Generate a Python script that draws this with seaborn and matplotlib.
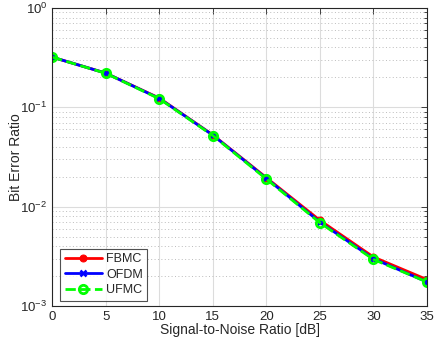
import matplotlib
matplotlib.use("Agg")
import matplotlib.pyplot as plt
import seaborn as sns
import numpy as np
import pandas as pd

sns.set_theme(style="white")
plt.rcParams['font.family'] = ['Liberation Sans', 'DejaVu Sans']

# SNR points and BER curves
snr_db = [0, 5, 10, 15, 20, 25, 30, 35]
ber_fbmc = [0.320, 0.221, 0.124, 0.0528, 0.0196, 0.0073, 0.00312, 0.00185]
ber_ofdm = [0.320, 0.221, 0.123, 0.0525, 0.0193, 0.0070, 0.00300, 0.00175]
ber_ufmc = [0.320, 0.220, 0.122, 0.0520, 0.0190, 0.0069, 0.00295, 0.00175]

df = pd.DataFrame({
    'SNR': snr_db * 3,
    'BER': ber_fbmc + ber_ofdm + ber_ufmc,
    'Scheme': ['FBMC'] * 8 + ['OFDM'] * 8 + ['UFMC'] * 8,
})

fig, ax = plt.subplots(figsize=(4.38, 3.44), dpi=100)

styles = {
    'FBMC': dict(color='red', linestyle='-', marker='o', markersize=5,
                 markerfacecolor='red', markeredgecolor='red'),
    'OFDM': dict(color='blue', linestyle='-', marker='x', markersize=4,
                 markeredgewidth=1.8, markeredgecolor='blue'),
    'UFMC': dict(color='#00ff00', linestyle='--', marker='o', markersize=6,
                 markerfacecolor='none', markeredgewidth=2,
                 markeredgecolor='#00ff00', dashes=(4, 2.5)),
}
for name in ['FBMC', 'OFDM', 'UFMC']:
    sub = df[df['Scheme'] == name]
    sns.lineplot(data=sub, x='SNR', y='BER', ax=ax, label=name, linewidth=2,
                 **styles[name])

ax.set_yscale('log')
ax.set_xlim(0, 35)
ax.set_ylim(1e-3, 1)
ax.set_xticks(range(0, 36, 5))
ax.set_xlabel('Signal-to-Noise Ratio [dB]', fontsize=10, labelpad=0)
ax.set_ylabel('Bit Error Ratio', fontsize=10, labelpad=-2)
ax.tick_params(axis='both', which='both', direction='in', labelsize=9.5,
               top=True, right=True, length=4, width=0.6, colors='#262626')
ax.tick_params(which='minor', length=2)
ax.grid(True, which='major', color='#dcdcdc', linewidth=0.8)
ax.grid(True, which='minor', axis='y', color='#bcbcbc', linestyle=(0, (1, 2.5)), linewidth=0.7)
ax.grid(False, which='minor', axis='x')
for s in ax.spines.values():
    s.set_color('#262626')
    s.set_linewidth(0.8)
    s.set_visible(True)

handles = ax.get_lines()[:3]
leg = ax.legend(handles, ['FBMC', 'OFDM', 'UFMC'], loc='lower left', fontsize=9,
                frameon=True, fancybox=False, edgecolor='#262626',
                handlelength=3.0, borderpad=0.35, labelspacing=0.3,
                handletextpad=0.3, borderaxespad=0.0,
                bbox_to_anchor=(0.022, 0.018))
leg.get_frame().set_linewidth(0.8)

fig.subplots_adjust(left=0.119, right=0.975, top=0.977, bottom=0.11)
fig.savefig('out.png', dpi=100)
